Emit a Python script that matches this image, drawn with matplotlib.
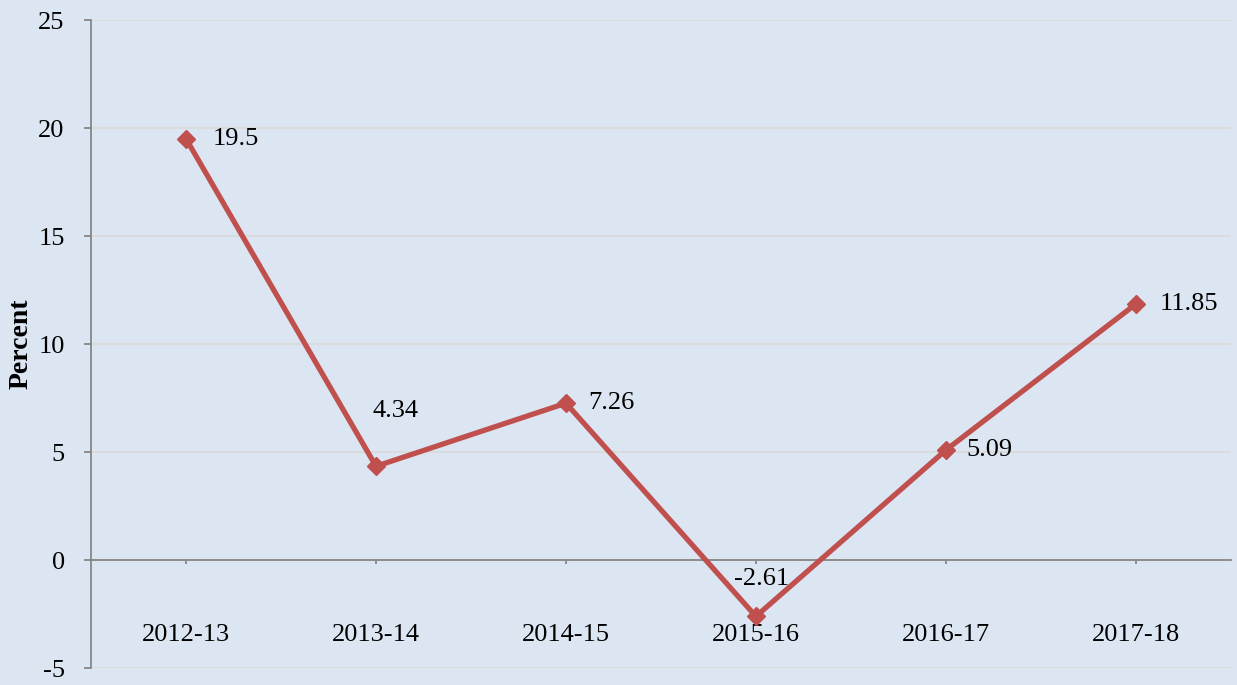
import matplotlib
matplotlib.use("Agg")
import matplotlib.pyplot as plt

# ---------------------------------------------------------------------------
# Data
# ---------------------------------------------------------------------------
years = ["2012-13", "2013-14", "2014-15", "2015-16", "2016-17", "2017-18"]
growth = [19.5, 4.34, 7.26, -2.61, 5.09, 11.85]
value_labels = ["19.5", "4.34", "7.26", "-2.61", "5.09", "11.85"]
y_ticks = [-5, 0, 5, 10, 15, 20, 25]

# label placement (offset in points, horizontal alignment)
label_offsets = [(19, 0, "left"), (14, 40, "center"), (16, 0, "left"),
                 (4, 27, "center"), (15, 0, "left"), (17, 0, "left")]

BG = "#DCE6F2"
RED = "#C0504D"
AXIS = "#868686"
GRID = "#D9D9D9"
FS = 19

plt.rcParams["font.family"] = ["Liberation Serif", "DejaVu Serif"]

fig = plt.figure(figsize=(12.37, 6.85), dpi=100, facecolor=BG)
ax = fig.add_axes([0.0736, 0.0248, 0.9214, 0.946])
ax.set_facecolor(BG)

x = list(range(len(years)))
ax.plot(x, growth, color=RED, linewidth=3.8, marker="D", markersize=9,
        markerfacecolor=RED, markeredgecolor=RED, zorder=3)

for xi, yi, txt, (dx, dy, ha) in zip(x, growth, value_labels, label_offsets):
    ax.annotate(txt, (xi, yi), xytext=(dx, dy), textcoords="offset points",
                ha=ha, va="center", fontsize=FS, color="black")

for side in ["top", "right"]:
    ax.spines[side].set_visible(False)
ax.spines["bottom"].set_position(("data", 0))
ax.spines["bottom"].set_color(AXIS)
ax.spines["bottom"].set_linewidth(1.3)
ax.spines["left"].set_color(AXIS)
ax.spines["left"].set_linewidth(1.3)

ax.set_xlim(-0.5, len(years) - 0.5)
ax.set_ylim(-5, 25)
ax.set_yticks(y_ticks)
ax.set_yticklabels([str(v) for v in y_ticks])
ax.set_xticks(x)
ax.set_xticklabels(years)

ax.grid(axis="y", color=GRID, linewidth=1.2, zorder=0)
ax.set_axisbelow(True)

ax.tick_params(axis="y", direction="out", length=5, width=1.3, color=AXIS,
               pad=14, labelsize=FS)
ax.tick_params(axis="x", direction="out", length=3, width=1.3, color=AXIS,
               pad=43, labelsize=FS)

ax.set_ylabel("Percent", fontsize=20, fontweight="bold")
ax.yaxis.set_label_coords(-0.050, 0.5)

fig.savefig("out.png", dpi=100, facecolor=BG)
